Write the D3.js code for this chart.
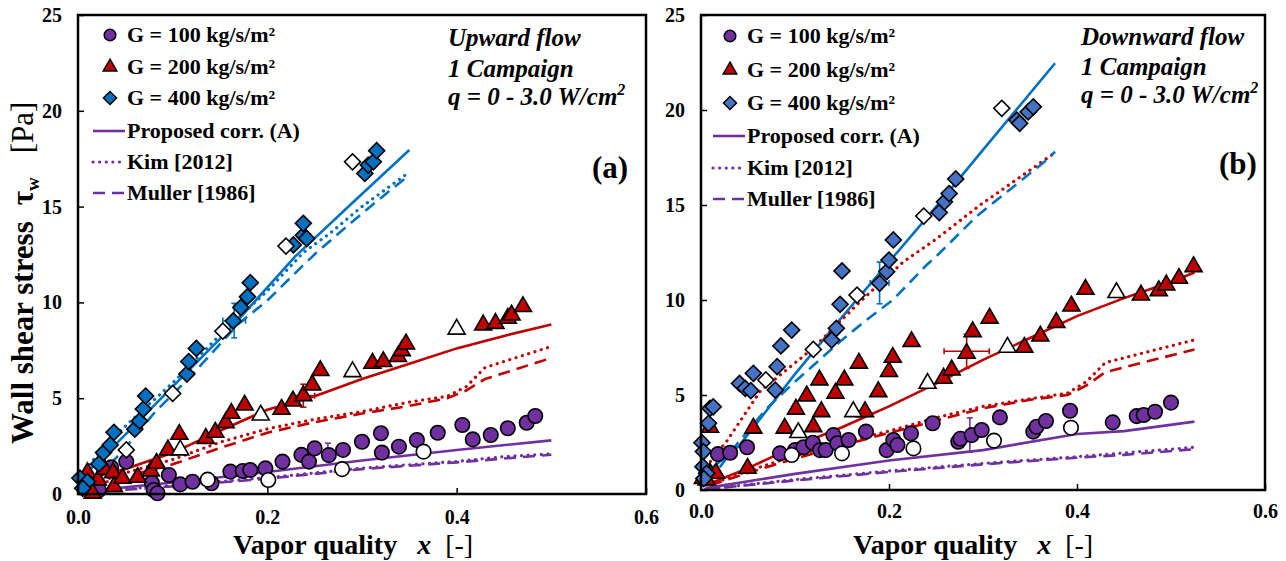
<!DOCTYPE html>
<html lang="en">
<meta charset="utf-8">
<head>
<title>Wall shear stress vs vapor quality</title>
<style>
  body { margin: 0; background: #fff; }
  svg text { font-family: "Liberation Serif", "Times New Roman", serif; fill: #000; }
  .tick line { stroke: #000; stroke-width: 1.5; }
  .tick text { font-size: 20px; font-weight: bold; }
  .frame { fill: none; stroke: #000; stroke-width: 2.5; }
</style>
</head>
<body>
<svg id="chart" width="1286" height="561"></svg>
<script src="https://cdn.jsdelivr.net/npm/d3@7"></script>
<script>

// ---- data ----
var seriesLabels = ["G = 100 kg/s/m\u00b2", "G = 200 kg/s/m\u00b2", "G = 400 kg/s/m\u00b2"];
var lineLabels = ["Proposed corr. (A)", "Kim [2012]", "Muller [1986]"];
var xTicks = [0, 0.2, 0.4, 0.6];
var yTicks = [0, 5, 10, 15, 20, 25];

// (a) upward flow
var up100 = [[0.022,0.2],[0.035,1.39],[0.051,1.69],[0.078,0.59],[0.080,0.21],[0.084,0.04],[0.096,0.99],[0.108,0.5],[0.121,0.64],[0.141,0.56],[0.161,1.17],[0.174,1.2],[0.182,1.25],[0.198,1.34],[0.216,1.69],[0.236,2.04],[0.244,1.69],[0.25,2.38],[0.265,2.03],[0.28,2.3],[0.3,2.73],[0.32,3.17],[0.321,2.16],[0.339,2.47],[0.358,2.82],[0.38,3.2],[0.406,3.6],[0.417,2.85],[0.436,3.08],[0.454,3.43],[0.474,3.72],[0.483,4.07]];
var up100open = [[0.137,0.75],[0.201,0.73],[0.279,1.3],[0.365,2.21]];
var up200 = [[0.01,1.11],[0.0155,0.04],[0.021,0.73],[0.028,1.29],[0.037,1.11],[0.038,0.38],[0.047,0.82],[0.063,0.87],[0.077,1.2],[0.083,1.6],[0.095,2.3],[0.107,3.11],[0.135,2.9],[0.145,3.22],[0.156,3.72],[0.162,4.21],[0.176,4.64],[0.215,4.42],[0.227,4.85],[0.238,5.13],[0.2475,5.69],[0.256,6.44],[0.311,6.82],[0.3225,6.91],[0.338,7.17],[0.342,7.48],[0.3465,7.83],[0.428,8.82],[0.441,8.9],[0.454,9.17],[0.458,9.34],[0.47,9.78]];
var up200open = [[0.108,2.3],[0.193,4.12],[0.29,6.38],[0.4,8.6]];
var up400 = [[0.002,0.83],[0.01,0.64],[0.005,0.3],[0.022,1.57],[0.027,2.16],[0.034,2.56],[0.038,3.22],[0.06,3.38],[0.065,3.81],[0.069,4.43],[0.0715,5.11],[0.115,6.26],[0.117,6.91],[0.125,7.6],[0.164,9.03],[0.172,9.74],[0.179,10.3],[0.182,11.03],[0.2275,13.0],[0.238,13.5],[0.2415,13.34],[0.238,14.13],[0.303,16.73],[0.3066,17.17],[0.312,17.34],[0.3155,17.92]];
var up400open = [[0.051,2.3],[0.1,5.25],[0.153,8.5],[0.2197,12.94],[0.29,17.34]];

var upCorr100 = [[0.01,0.15],[0.1,0.6],[0.2,1.15],[0.3,1.75],[0.4,2.3],[0.5,2.8]];
var upKim100 = [[0.01,0.1],[0.1,0.45],[0.2,0.85],[0.3,1.35],[0.4,1.7],[0.45,1.95],[0.5,2.1]];
var upMuller100 = [[0.01,0.08],[0.1,0.4],[0.2,0.8],[0.3,1.3],[0.4,1.65],[0.45,1.85],[0.5,2.05]];
var upCorr200 = [[0.01,0.8],[0.05,1.3],[0.1,2.15],[0.15,3.3],[0.2,4.4],[0.25,5.1],[0.3,6.0],[0.35,6.8],[0.4,7.6],[0.45,8.25],[0.5,8.85]];
var upKim200 = [[0.02,0.6],[0.05,1.1],[0.1,1.8],[0.15,2.7],[0.2,3.4],[0.25,3.9],[0.3,4.3],[0.35,4.8],[0.39,5.1],[0.41,5.6],[0.43,6.6],[0.5,7.7]];
var upMuller200 = [[0.02,0.5],[0.05,0.9],[0.1,1.55],[0.15,2.4],[0.2,3.2],[0.25,3.75],[0.3,4.2],[0.35,4.6],[0.39,5.0],[0.41,5.4],[0.43,6.0],[0.5,7.1]];
var upCorr400 = [[0.005,0.9],[0.05,3.1],[0.1,5.6],[0.164,8.8],[0.229,12.38],[0.29,15.2],[0.35,17.95]];
var upKim400 = [[0.003,1.0],[0.03,2.6],[0.06,4.0],[0.1,5.8],[0.15,8.3],[0.2,10.6],[0.238,12.6],[0.266,13.6],[0.3,15.0],[0.35,16.8]];
var upMuller400 = [[0.02,0.8],[0.05,2.4],[0.08,4.2],[0.12,6.2],[0.17,8.9],[0.2,10.1],[0.238,11.95],[0.252,12.6],[0.287,14.1],[0.326,15.7],[0.35,16.65]];

// error bars: [x, y, xerr, yerr]
var upErr100 = [0.264, 2.2, 0.004, 0.45];
var upErr200 = [0.238, 5.13, 0.012, 0.6];
var upErr400 = [0.165, 9.05, 0.012, 0.9];

// (b) downward flow
var dn100 = [[0.018,1.89],[0.031,1.96],[0.049,2.25],[0.084,1.93],[0.1,2.1],[0.109,2.25],[0.119,2.49],[0.1266,2.1],[0.1326,2.1],[0.1408,2.89],[0.145,2.46],[0.157,2.63],[0.1755,3.07],[0.1975,2.1],[0.2046,2.63],[0.209,2.37],[0.2234,2.98],[0.2465,3.51],[0.2737,2.54],[0.276,2.7],[0.288,2.89],[0.2986,3.16],[0.318,3.82],[0.3535,3.07],[0.357,3.33],[0.367,3.63],[0.3926,4.17],[0.438,3.56],[0.4635,3.89],[0.471,3.95],[0.483,4.12],[0.5,4.6]];
var dn100open = [[0.0965,1.84],[0.15,1.93],[0.226,2.19],[0.3117,2.6],[0.3936,3.28]];
var dn200 = [[0.002,0.6],[0.006,0.53],[0.0096,0.88],[0.0096,3.3],[0.016,0.88],[0.0496,1.14],[0.0557,3.25],[0.089,3.25],[0.101,4.25],[0.1125,4.95],[0.1195,3.33],[0.126,5.79],[0.128,4.12],[0.143,5.09],[0.1525,5.79],[0.168,6.67],[0.1745,4.12],[0.1886,5.17],[0.2,6.23],[0.204,6.98],[0.224,7.81],[0.258,5.88],[0.2667,6.32],[0.2826,7.19],[0.289,8.33],[0.307,9.04],[0.344,7.51],[0.361,8.1],[0.378,8.82],[0.394,9.68],[0.409,10.56],[0.468,10.26],[0.487,10.49],[0.495,10.79],[0.5085,11.14],[0.524,11.75]];
var dn200open = [[0.1035,3.02],[0.162,4.12],[0.241,5.61],[0.326,7.51],[0.442,10.39]];
var dn400 = [[0.001,2.49],[0.0025,2.02],[0.002,1.23],[0.006,0.88],[0.003,0.6],[0.008,3.51],[0.0096,4.3],[0.013,4.38],[0.041,5.61],[0.047,5.35],[0.053,5.23],[0.0557,6.14],[0.079,5.26],[0.081,6.49],[0.085,7.58],[0.0965,8.42],[0.139,7.89],[0.144,8.51],[0.148,9.77],[0.15,11.53],[0.19,10.88],[0.1975,11.49],[0.2,12.1],[0.2046,13.16],[0.2535,14.6],[0.259,15.17],[0.264,15.6],[0.271,16.37],[0.336,19.47],[0.339,19.3],[0.348,19.9],[0.3535,20.17]];
var dn400open = [[0.069,5.79],[0.1195,7.4],[0.166,10.26],[0.237,14.42],[0.32,20.09]];

var dnCorr100 = [[0.005,0.1],[0.1,0.85],[0.2,1.55],[0.3,2.1],[0.4,2.95],[0.45,3.1],[0.525,3.6]];
var dnKim100 = [[0.005,0.05],[0.1,0.55],[0.2,1.0],[0.3,1.4],[0.4,1.75],[0.45,1.95],[0.525,2.25]];
var dnMuller100 = [[0.005,0.04],[0.1,0.5],[0.2,0.95],[0.3,1.35],[0.4,1.7],[0.45,1.85],[0.525,2.15]];
var dnCorr200 = [[0.005,0.25],[0.05,1.15],[0.1,2.3],[0.15,3.3],[0.2,4.4],[0.25,5.6],[0.3,6.85],[0.35,8.0],[0.4,9.15],[0.45,10.1],[0.5,10.95],[0.525,11.45]];
var dnKim200 = [[0.01,0.3],[0.05,1.0],[0.1,1.8],[0.15,2.5],[0.2,3.1],[0.25,3.8],[0.3,4.4],[0.35,4.8],[0.39,5.1],[0.41,5.7],[0.43,6.7],[0.525,7.9]];
var dnMuller200 = [[0.01,0.25],[0.05,0.9],[0.1,1.65],[0.15,2.35],[0.2,3.0],[0.25,3.65],[0.3,4.3],[0.35,4.75],[0.39,5.0],[0.41,5.5],[0.43,6.2],[0.525,7.4]];
var dnCorr400 = [[0.005,0.9],[0.04,2.3],[0.1,6.1],[0.15,9.1],[0.2,12.0],[0.25,14.9],[0.3,17.9],[0.3766,22.46]];
var dnKim400 = [[0.01,1.5],[0.027,2.54],[0.063,5.2],[0.119,7.45],[0.169,9.9],[0.215,12.0],[0.25,13.2],[0.297,15.0],[0.375,17.7]];
var dnMuller400 = [[0.02,1.2],[0.036,2.28],[0.07,4.3],[0.1,5.7],[0.15,7.9],[0.176,8.95],[0.204,10.0],[0.24,11.84],[0.25,12.28],[0.293,14.4],[0.366,17.3],[0.3766,17.8]];

var dnErr100 = [0.286, 2.9, 0.012, 0.9];
var dnErr200 = [0.2826, 7.3, 0.024, 0.9];
var dnErr400 = [0.19, 10.9, 0.01, 1.1];

// ---- styles ----
var purple = "#7030A0", red = "#C00000", blue = "#0070C0", blueLight = "#4472C4";

var svg = d3.select("#chart");

function lineStyle(sel, kind) {
  sel.attr("fill", "none").attr("stroke-width", kind == "dot" ? 3.2 : 2.6);
  if (kind == "dot") sel.attr("stroke-dasharray", "0.1,6.5").attr("stroke-linecap", "round");
  if (kind == "dash") sel.attr("stroke-dasharray", "12,7");
}

function marker(kind, big) {
  if (kind == "circle") return d3.symbol().type(d3.symbolCircle).size(big ? 165 : 105)();
  if (kind == "triangle") return d3.symbol().type(d3.symbolTriangle).size(big ? 125 : 80)();
  return d3.symbol().type(d3.symbolSquare).size(big ? 128 : 85)();
}

function drawPanel(p) {
  var x = d3.scaleLinear().domain([0, 0.6]).range([p.left, p.right]);
  var y = d3.scaleLinear().domain([0, 25]).range([p.bottom, p.top]);
  var g = svg.append("g");

  // axes with inward ticks
  g.append("g")
    .attr("transform", "translate(0," + p.bottom + ")")
    .call(d3.axisBottom(x).tickValues(xTicks).tickFormat(d3.format(".1f")).tickSize(-6).tickPadding(p.xPad))
    .call(function(a) { a.select(".domain").remove(); });
  g.append("g")
    .attr("transform", "translate(" + p.left + ",0)")
    .call(d3.axisLeft(y).tickValues(yTicks).tickSize(-6).tickPadding(16))
    .call(function(a) { a.select(".domain").remove(); });

  var line = d3.line()
    .x(function(d) { return x(d[0]); })
    .y(function(d) { return y(d[1]); });

  // model lines
  p.lines.forEach(function(l) {
    g.append("path").attr("d", line(l.data)).attr("stroke", l.color).call(lineStyle, l.kind);
  });

  // error bars
  p.errs.forEach(function(e) {
    var v = e.v, cap = 3;
    var eb = g.append("g").attr("stroke", e.color).attr("stroke-width", 1.6);
    eb.append("line").attr("x1", x(v[0] - v[2])).attr("x2", x(v[0] + v[2])).attr("y1", y(v[1])).attr("y2", y(v[1]));
    eb.append("line").attr("x1", x(v[0])).attr("x2", x(v[0])).attr("y1", y(v[1] - v[3])).attr("y2", y(v[1] + v[3]));
    eb.append("line").attr("x1", x(v[0] - v[2])).attr("x2", x(v[0] - v[2])).attr("y1", y(v[1]) - cap).attr("y2", y(v[1]) + cap);
    eb.append("line").attr("x1", x(v[0] + v[2])).attr("x2", x(v[0] + v[2])).attr("y1", y(v[1]) - cap).attr("y2", y(v[1]) + cap);
    eb.append("line").attr("x1", x(v[0]) - cap).attr("x2", x(v[0]) + cap).attr("y1", y(v[1] - v[3])).attr("y2", y(v[1] - v[3]));
    eb.append("line").attr("x1", x(v[0]) - cap).attr("x2", x(v[0]) + cap).attr("y1", y(v[1] + v[3])).attr("y2", y(v[1] + v[3]));
  });

  // measured points
  p.points.forEach(function(s) {
    g.append("g").selectAll("path")
      .data(s.data)
      .enter().append("path")
        .attr("d", marker(s.shape, true))
        .attr("transform", function(d) {
          return "translate(" + x(d[0]) + "," + y(d[1]) + ")" + (s.shape == "diamond" ? " rotate(45)" : "");
        })
        .attr("fill", s.fill)
        .attr("stroke", "#000")
        .attr("stroke-width", 1.6);
  });

  // frame
  g.append("rect").attr("class", "frame")
    .attr("x", p.left).attr("y", p.top)
    .attr("width", p.right - p.left).attr("height", p.bottom - p.top);

  // legend
  var shapes = ["circle", "triangle", "diamond"];
  var kinds = ["solid", "dot", "dash"];
  p.legendFill.forEach(function(f, i) {
    var yy = p.legY[i];
    g.append("path").attr("d", marker(shapes[i], false))
      .attr("transform", "translate(" + p.legMark + "," + yy + ")" + (shapes[i] == "diamond" ? " rotate(45)" : ""))
      .attr("fill", f).attr("stroke", "#000").attr("stroke-width", 1.5);
    g.append("text").attr("x", p.legText).attr("y", yy + 7)
      .style("font-size", "22px").style("font-weight", "bold").text(seriesLabels[i]);
  });
  lineLabels.forEach(function(t, i) {
    var yy = p.legY[i + 3];
    g.append("line").attr("x1", p.legText - 34).attr("x2", p.legText - 2).attr("y1", yy).attr("y2", yy)
      .attr("stroke", purple).call(lineStyle, kinds[i]);
    g.append("text").attr("x", p.legText).attr("y", yy + 7)
      .style("font-size", "22px").style("font-weight", "bold").text(t);
  });

  // annotation
  p.note.forEach(function(t, i) {
    var tx = g.append("text").attr("x", p.noteX).attr("y", p.noteY[i])
      .style("font-size", "25px").style("font-weight", "bold").style("font-style", "italic");
    if (i == 2) {
      tx.text("q = 0 - 3.0 W/cm");
      tx.append("tspan").attr("dy", -10).style("font-size", "16px").text("2");
    } else tx.text(t);
  });
  g.append("text").attr("x", p.tagX).attr("y", p.tagY)
    .style("font-size", "31px").style("font-weight", "bold").text(p.tag);

  // x axis title
  var xt = g.append("text").attr("x", p.xTitleX).attr("y", p.xTitleY).style("font-size", "28px");
  xt.append("tspan").style("font-weight", "bold").text("Vapor quality");
  xt.append("tspan").attr("dx", 20).style("font-weight", "bold").style("font-style", "italic").text("x");
  xt.append("tspan").attr("dx", 14).text("[-]");
}

drawPanel({
  left: 78, right: 646, top: 15, bottom: 494, xPad: 16,
  lines: [
    {data: upCorr100, color: purple, kind: "solid"}, {data: upKim100, color: purple, kind: "dot"}, {data: upMuller100, color: purple, kind: "dash"},
    {data: upCorr200, color: red, kind: "solid"}, {data: upKim200, color: red, kind: "dot"}, {data: upMuller200, color: red, kind: "dash"},
    {data: upCorr400, color: blue, kind: "solid"}, {data: upKim400, color: blue, kind: "dot"}, {data: upMuller400, color: blue, kind: "dash"}
  ],
  errs: [{v: upErr100, color: purple}, {v: upErr200, color: red}, {v: upErr400, color: blue}],
  points: [
    {data: up100, shape: "circle", fill: purple}, {data: up100open, shape: "circle", fill: "#fff"},
    {data: up200, shape: "triangle", fill: red}, {data: up200open, shape: "triangle", fill: "#fff"},
    {data: up400, shape: "diamond", fill: blue}, {data: up400open, shape: "diamond", fill: "#fff"}
  ],
  legendFill: [purple, red, blue],
  legY: [35, 67, 98, 131, 162, 193], legMark: 110, legText: 127,
  note: ["Upward flow", "1 Campaign", "q"], noteX: 448, noteY: [46, 77, 105],
  tag: "(a)", tagX: 592, tagY: 178,
  xTitleX: 233, xTitleY: 554
});

drawPanel({
  left: 701, right: 1265, top: 15, bottom: 490, xPad: 14,
  lines: [
    {data: dnCorr100, color: purple, kind: "solid"}, {data: dnKim100, color: purple, kind: "dot"}, {data: dnMuller100, color: purple, kind: "dash"},
    {data: dnCorr200, color: red, kind: "solid"}, {data: dnKim200, color: red, kind: "dot"}, {data: dnMuller200, color: red, kind: "dash"},
    {data: dnCorr400, color: blue, kind: "solid"}, {data: dnKim400, color: red, kind: "dot"}, {data: dnMuller400, color: blue, kind: "dash"}
  ],
  errs: [{v: dnErr100, color: purple}, {v: dnErr200, color: red}, {v: dnErr400, color: blue}],
  points: [
    {data: dn100, shape: "circle", fill: purple}, {data: dn100open, shape: "circle", fill: "#fff"},
    {data: dn200, shape: "triangle", fill: red}, {data: dn200open, shape: "triangle", fill: "#fff"},
    {data: dn400, shape: "diamond", fill: blueLight}, {data: dn400open, shape: "diamond", fill: "#fff"}
  ],
  legendFill: [purple, red, blueLight],
  legY: [36, 70, 103, 136, 168, 199], legMark: 730, legText: 747,
  note: ["Downward flow", "1 Campaign", "q"], noteX: 1081, noteY: [45, 75, 103],
  tag: "(b)", tagX: 1219, tagY: 174,
  xTitleX: 853, xTitleY: 554
});

// y axis title (left panel only)
var yt = svg.append("text")
  .attr("transform", "translate(33,444) rotate(-90)")
  .style("font-size", "31px");
yt.append("tspan").style("font-weight", "bold").text("Wall shear stress");
yt.append("tspan").attr("dx", 16).style("font-weight", "bold").text("\u03c4");
yt.append("tspan").attr("dy", 6).style("font-weight", "bold").style("font-size", "19px").text("w");
yt.append("tspan").attr("dx", 24).attr("dy", -6).text("[Pa]");

</script>
</body>
</html>
